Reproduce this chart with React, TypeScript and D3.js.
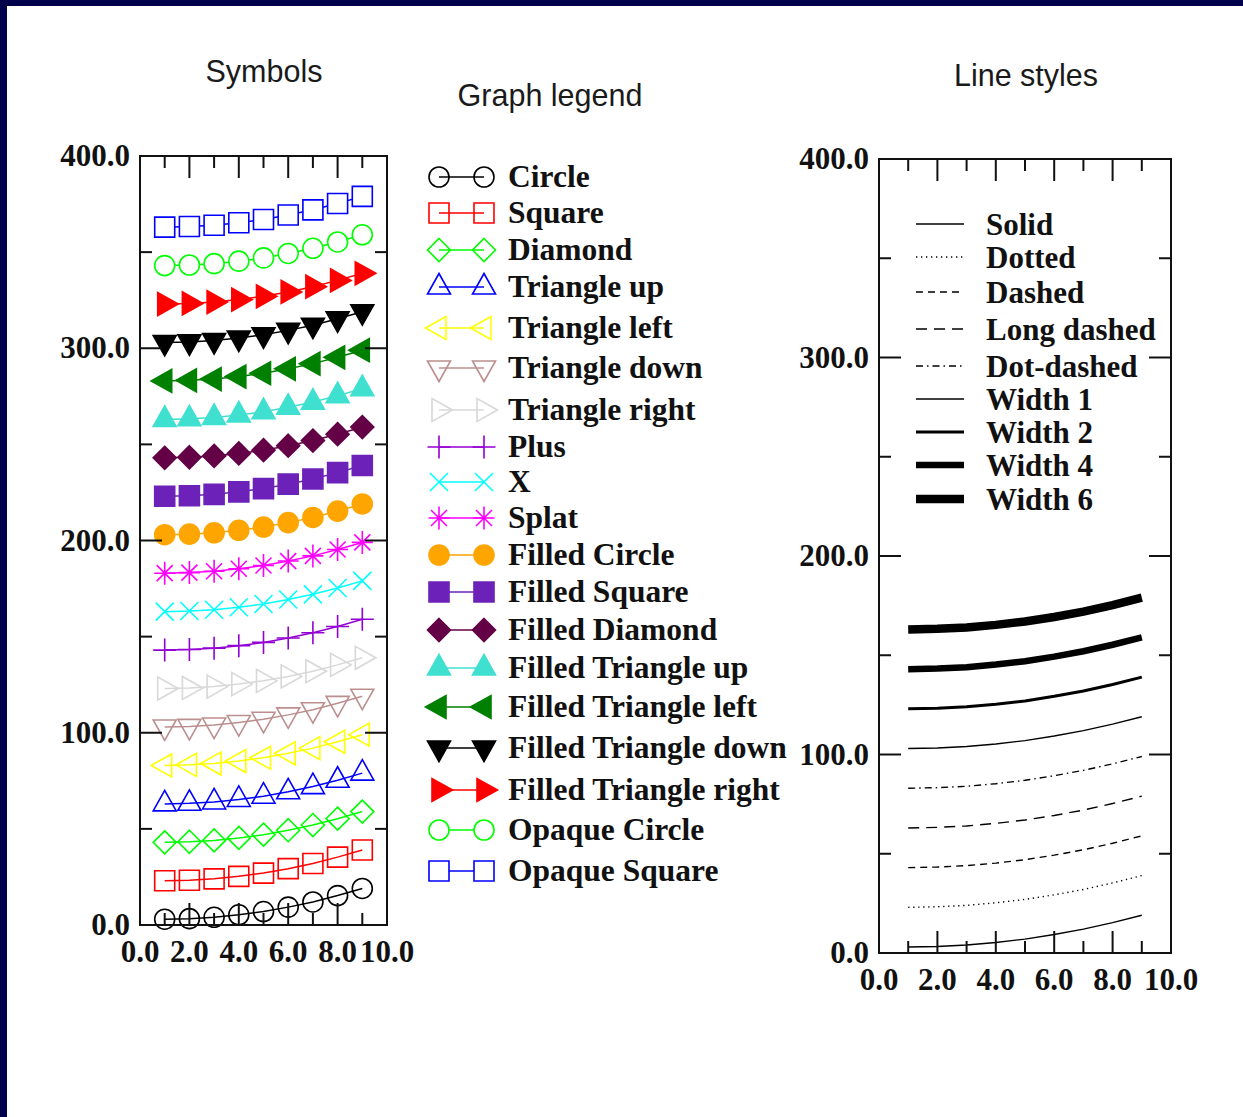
import React, { useEffect, useRef } from 'react';
import * as d3 from 'd3';

const W = 1243;
const H = 1117;

// ---- data ----
const xValues = [1, 2, 3, 4, 5, 6, 7, 8, 9];

const circleY = [3, 3.3, 4, 5.3, 7, 9.3, 12, 15.3, 19];
const squareY = [23, 23.3, 24, 25.3, 27, 29.3, 32, 35.3, 39];
const diamondY = [43, 43.3, 44, 45.3, 47, 49.3, 52, 55.3, 59];
const triUpY = [63, 63.3, 64, 65.3, 67, 69.3, 72, 75.3, 79];
const triLeftY = [83, 83.3, 84, 85.3, 87, 89.3, 92, 95.3, 99];
const triDownY = [103, 103.3, 104, 105.3, 107, 109.3, 112, 115.3, 119];
const triRightY = [123, 123.3, 124, 125.3, 127, 129.3, 132, 135.3, 139];
const plusY = [143, 143.3, 144, 145.3, 147, 149.3, 152, 155.3, 159];
const xMarkY = [163, 163.3, 164, 165.3, 167, 169.3, 172, 175.3, 179];
const splatY = [183, 183.3, 184, 185.3, 187, 189.3, 192, 195.3, 199];
const filledCircleY = [203, 203.3, 204, 205.3, 207, 209.3, 212, 215.3, 219];
const filledSquareY = [223, 223.3, 224, 225.3, 227, 229.3, 232, 235.3, 239];
const filledDiamondY = [243, 243.3, 244, 245.3, 247, 249.3, 252, 255.3, 259];
const filledTriUpY = [263, 263.3, 264, 265.3, 267, 269.3, 272, 275.3, 279];
const filledTriLeftY = [283, 283.3, 284, 285.3, 287, 289.3, 292, 295.3, 299];
const filledTriDownY = [303, 303.3, 304, 305.3, 307, 309.3, 312, 315.3, 319];
const filledTriRightY = [323, 323.3, 324, 325.3, 327, 329.3, 332, 335.3, 339];
const opaqueCircleY = [343, 343.3, 344, 345.3, 347, 349.3, 352, 355.3, 359];
const opaqueSquareY = [363, 363.3, 364, 365.3, 367, 369.3, 372, 375.3, 379];

const symbolNames = ['Circle', 'Square', 'Diamond', 'Triangle up', 'Triangle left', 'Triangle down',
  'Triangle right', 'Plus', 'X', 'Splat', 'Filled Circle', 'Filled Square', 'Filled Diamond',
  'Filled Triangle up', 'Filled Triangle left', 'Filled Triangle down', 'Filled Triangle right',
  'Opaque Circle', 'Opaque Square'];
const symbolValues = [circleY, squareY, diamondY, triUpY, triLeftY, triDownY, triRightY, plusY,
  xMarkY, splatY, filledCircleY, filledSquareY, filledDiamondY, filledTriUpY, filledTriLeftY,
  filledTriDownY, filledTriRightY, opaqueCircleY, opaqueSquareY];
const symbolShapes = ['circle', 'square', 'diamond', 'up', 'left', 'down', 'right', 'plus', 'x',
  'splat', 'circle', 'square', 'diamond', 'up', 'left', 'down', 'right', 'circle', 'square'];
const symbolColors = ['#000000', '#ff0000', '#00ff00', '#0000ff', '#ffff00', '#bc8f8f', '#d8d8d8',
  '#9400d3', '#00ffff', '#ff00ff', '#ffa500', '#6c22b8', '#640046', '#40e0d0', '#008000',
  '#000000', '#ff0000', '#00ff00', '#0000ff'];
const symbolFills = ['none', 'none', 'none', 'none', 'none', 'none', 'none', 'none', 'none', 'none',
  'solid', 'solid', 'solid', 'solid', 'solid', 'solid', 'solid', 'white', 'white'];

const solidY = [3, 3.3, 4, 5.3, 7, 9.3, 12, 15.3, 19];
const dottedY = [23, 23.3, 24, 25.3, 27, 29.3, 32, 35.3, 39];
const dashedY = [43, 43.3, 44, 45.3, 47, 49.3, 52, 55.3, 59];
const longDashedY = [63, 63.3, 64, 65.3, 67, 69.3, 72, 75.3, 79];
const dotDashedY = [83, 83.3, 84, 85.3, 87, 89.3, 92, 95.3, 99];
const width1Y = [103, 103.3, 104, 105.3, 107, 109.3, 112, 115.3, 119];
const width2Y = [123, 123.3, 124, 125.3, 127, 129.3, 132, 135.3, 139];
const width4Y = [143, 143.3, 144, 145.3, 147, 149.3, 152, 155.3, 159];
const width6Y = [163, 163.3, 164, 165.3, 167, 169.3, 172, 175.3, 179];

const lineNames = ['Solid', 'Dotted', 'Dashed', 'Long dashed', 'Dot-dashed', 'Width 1', 'Width 2', 'Width 4', 'Width 6'];
const lineValues = [solidY, dottedY, dashedY, longDashedY, dotDashedY, width1Y, width2Y, width4Y, width6Y];
const lineDashes = [null, '1.3,3.7', '7,5', '11,7', '7,4,1.5,4', null, null, null, null];
const lineWidths = [1.4, 1.4, 1.4, 1.4, 1.4, 1.4, 3, 6.5, 8.5];

// legend row centres (layout)
const symbolLegendY = [177, 213, 250, 287, 328, 368, 410, 447, 482, 518, 555, 592, 630, 668, 707, 748, 790, 830, 871];
const lineLegendY = [224, 257, 292, 329, 366, 399, 432, 465, 499];

const SERIF = "'Liberation Serif', 'Times New Roman', serif";
const SANS = "'Liberation Sans', Arial, sans-serif";

const shapePath = (shape: string) => {
  const p = d3.path();
  if (shape === 'circle') { p.moveTo(10, 0); p.arc(0, 0, 10, 0, 2 * Math.PI); }
  else if (shape === 'square') { p.rect(-10, -10, 20, 20); }
  else if (shape === 'diamond') { p.moveTo(0, -11.5); p.lineTo(11.5, 0); p.lineTo(0, 11.5); p.lineTo(-11.5, 0); p.closePath(); }
  else if (shape === 'up') { p.moveTo(0, -13.5); p.lineTo(11.5, 7); p.lineTo(-11.5, 7); p.closePath(); }
  else if (shape === 'down') { p.moveTo(0, 13.5); p.lineTo(11.5, -7); p.lineTo(-11.5, -7); p.closePath(); }
  else if (shape === 'left') { p.moveTo(-13.5, 0); p.lineTo(7, -11.5); p.lineTo(7, 11.5); p.closePath(); }
  else if (shape === 'right') { p.moveTo(13.5, 0); p.lineTo(-7, -11.5); p.lineTo(-7, 11.5); p.closePath(); }
  else if (shape === 'plus') { p.moveTo(-11.5, 0); p.lineTo(11.5, 0); p.moveTo(0, -11.5); p.lineTo(0, 11.5); }
  else if (shape === 'x') { p.moveTo(-9, -9); p.lineTo(9, 9); p.moveTo(-9, 9); p.lineTo(9, -9); }
  else if (shape === 'splat') {
    p.moveTo(-10.5, 0); p.lineTo(10.5, 0); p.moveTo(0, -11.5); p.lineTo(0, 11.5);
    p.moveTo(-8, -8); p.lineTo(8, 8); p.moveTo(-8, 8); p.lineTo(8, -8);
  }
  return p.toString();
};

const drawMarker = (g: any, i: number, cx: number, cy: number) => {
  const fill = symbolFills[i] === 'solid' ? symbolColors[i] : symbolFills[i];
  g.append('path')
    .attr('d', shapePath(symbolShapes[i]))
    .attr('transform', `translate(${cx},${cy})`)
    .attr('fill', fill)
    .attr('stroke', symbolColors[i])
    .attr('stroke-width', 1.6);
};

const drawAxes = (svg: any, x: any, y: any) => {
  const [x0, x1] = x.range();
  const [y0, y1] = y.range();
  const g = svg.append('g').attr('stroke', '#111').attr('stroke-width', 2);
  const fmt = d3.format('.1f');
  const xMajor = x.ticks(5);
  const yMajor = y.ticks(4);
  x.ticks(10).forEach((v: number) => {
    const len = xMajor.includes(v) ? 22 : 12;
    g.append('line').attr('x1', x(v)).attr('x2', x(v)).attr('y1', y0).attr('y2', y0 - len);
    g.append('line').attr('x1', x(v)).attr('x2', x(v)).attr('y1', y1).attr('y2', y1 + len);
  });
  y.ticks(8).forEach((v: number) => {
    const len = yMajor.includes(v) ? 22 : 12;
    g.append('line').attr('y1', y(v)).attr('y2', y(v)).attr('x1', x0).attr('x2', x0 + len);
    g.append('line').attr('y1', y(v)).attr('y2', y(v)).attr('x1', x1).attr('x2', x1 - len);
  });
  g.append('rect').attr('x', x0).attr('y', y1).attr('width', x1 - x0).attr('height', y0 - y1).attr('fill', 'none');

  const t = svg.append('g').attr('font-family', SERIF).attr('font-weight', 'bold').attr('font-size', 31).attr('fill', '#111');
  xMajor.forEach((v: number) => {
    t.append('text').attr('x', x(v)).attr('y', y0 + 37).attr('text-anchor', 'middle').text(fmt(v));
  });
  yMajor.forEach((v: number) => {
    t.append('text').attr('x', x0 - 10).attr('y', y(v) + 10).attr('text-anchor', 'end').text(fmt(v));
  });
};

export default function App() {
  const ref = useRef<SVGSVGElement>(null);

  useEffect(() => {
    const svg = d3.select(ref.current);
    svg.selectAll('*').remove();

    // slide background
    svg.append('rect').attr('width', W).attr('height', H).attr('fill', '#02024c');
    svg.append('rect').attr('x', 7).attr('y', 6).attr('width', W - 7).attr('height', H - 6).attr('fill', '#ffffff');

    // titles
    const titles = svg.append('g').attr('font-family', SANS).attr('font-size', 30.5).attr('fill', '#1a1a1a').attr('text-anchor', 'middle');
    titles.append('text').attr('x', 264).attr('y', 82).text('Symbols');
    titles.append('text').attr('x', 550).attr('y', 106).text('Graph legend');
    titles.append('text').attr('x', 1026).attr('y', 86).text('Line styles');

    // ---- symbols plot ----
    const xL = d3.scaleLinear().domain([0, 10]).range([140, 387]);
    const yL = d3.scaleLinear().domain([0, 400]).range([925, 156]);
    const plotL = svg.append('g');
    symbolValues.forEach((vals, i) => {
      const pts: [number, number][] = xValues.map((xv, j) => [xL(xv), yL(vals[j])]);
      plotL.append('path')
        .attr('d', d3.line()(pts))
        .attr('fill', 'none')
        .attr('stroke', symbolColors[i])
        .attr('stroke-width', 1.5);
      pts.forEach(([px, py]) => drawMarker(plotL, i, px, py));
    });
    drawAxes(svg, xL, yL);

    // ---- graph legend ----
    const leg = svg.append('g');
    symbolNames.forEach((name, i) => {
      const ly = symbolLegendY[i];
      leg.append('line').attr('x1', 439).attr('x2', 484).attr('y1', ly).attr('y2', ly)
        .attr('stroke', symbolColors[i]).attr('stroke-width', 1.5);
      drawMarker(leg, i, 439, ly);
      drawMarker(leg, i, 484, ly);
      leg.append('text').attr('x', 508).attr('y', ly + 10)
        .attr('font-family', SERIF).attr('font-weight', 'bold').attr('font-size', 31.5).attr('fill', '#111')
        .text(name);
    });

    // ---- line styles plot ----
    const xR = d3.scaleLinear().domain([0, 10]).range([879, 1171]);
    const yR = d3.scaleLinear().domain([0, 400]).range([953, 159]);
    const plotR = svg.append('g');
    lineValues.forEach((vals, i) => {
      const pts: [number, number][] = xValues.map((xv, j) => [xR(xv), yR(vals[j])]);
      plotR.append('path')
        .attr('d', d3.line()(pts))
        .attr('fill', 'none')
        .attr('stroke', '#000')
        .attr('stroke-width', lineWidths[i])
        .attr('stroke-dasharray', lineDashes[i]);
    });
    drawAxes(svg, xR, yR);

    lineNames.forEach((name, i) => {
      const ly = lineLegendY[i];
      svg.append('line').attr('x1', 916).attr('x2', 964).attr('y1', ly).attr('y2', ly)
        .attr('stroke', '#000').attr('stroke-width', lineWidths[i])
        .attr('stroke-dasharray', lineDashes[i]);
      svg.append('text').attr('x', 986).attr('y', ly + 11)
        .attr('font-family', SERIF).attr('font-weight', 'bold').attr('font-size', 31).attr('fill', '#111')
        .text(name);
    });
  }, []);

  return (
    <div style={{ position: 'absolute', left: 0, top: 0 }}>
      <svg ref={ref} width={W} height={H} />
    </div>
  );
}
